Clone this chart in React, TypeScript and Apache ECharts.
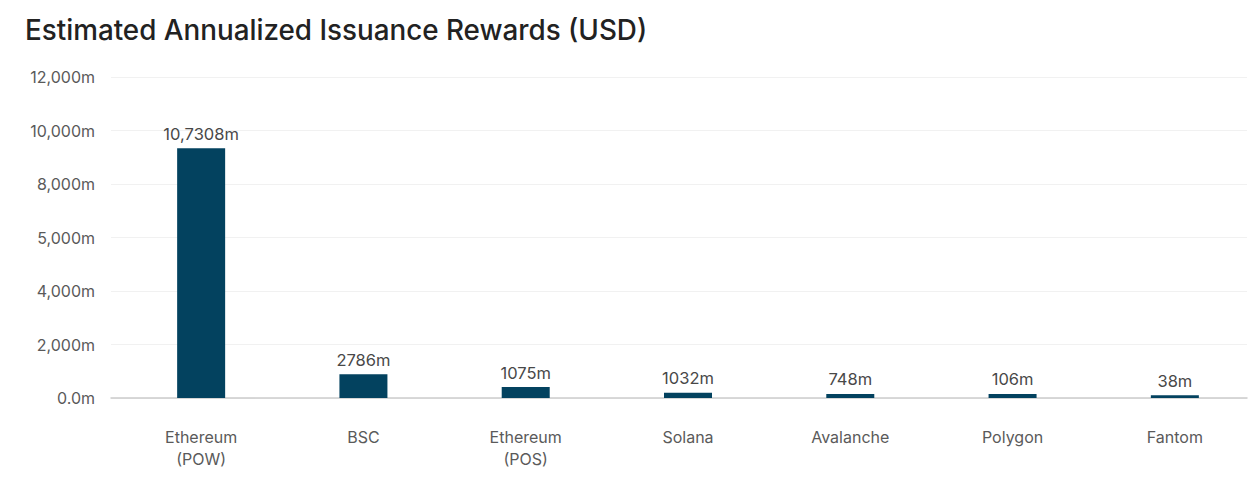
import React, { useEffect, useRef } from "react";
import * as echarts from "echarts";

const categories = ["Ethereum\n(POW)", "BSC", "Ethereum\n(POS)", "Solana", "Avalanche", "Polygon", "Fantom"];
// bar heights as drawn against the axis scale
const barValues = [9335, 886, 411, 200, 150, 150, 100];
// value labels shown above bars
const barLabels = ["10,7308m", "2786m", "1075m", "1032m", "748m", "106m", "38m"];
// y-axis tick labels (as shown)
const tickValues = [0, 2000, 4000, 6000, 8000, 10000, 12000];
const tickLabels = ["0.0m", "2,000m", "4,000m", "5,000m", "8,000m", "10,000m", "12,000m"];

const FONT = "Inter, Roboto, 'Noto Sans', sans-serif";

export default function App() {
  const ref = useRef<HTMLDivElement>(null);
  useEffect(() => {
    document.body.style.margin = "0";
    if (!ref.current) return;
    const chart = echarts.init(ref.current, null, { renderer: "svg" });
    const yFormatter = (v: number) => {
      const i = tickValues.indexOf(v);
      return i >= 0 ? tickLabels[i] : "";
    };
    chart.setOption({
      animation: false,
      backgroundColor: "#ffffff",
      title: {
        text: "Estimated Annualized Issuance Rewards (USD)",
        left: 20,
        top: 11,
        textStyle: { fontFamily: FONT, fontSize: 27.8, fontWeight: 500, color: "#222222" },
      },
      grid: [
        { left: 111, right: 12, top: 77, bottom: 85, containLabel: false },
        { left: 120, right: 3, top: 77, bottom: 85, containLabel: false },
      ],
      xAxis: [
        {
          type: "category",
          gridIndex: 0,
          data: categories,
          axisLine: { show: true, lineStyle: { color: "#cccccc", width: 1.5 } },
          axisTick: { show: false },
          axisLabel: { show: false },
        },
        {
          type: "category",
          gridIndex: 1,
          data: categories,
          axisLine: { show: false },
          axisTick: { show: false },
          axisLabel: {
            margin: 28,
            fontFamily: FONT,
            fontSize: 16,
            color: "#5a5a5a",
            lineHeight: 22,
            interval: 0,
          },
        },
      ],
      yAxis: [
        {
          type: "value",
          gridIndex: 0,
          min: 0,
          max: 12000,
          interval: 2000,
          axisLine: { show: false },
          axisTick: { show: false },
          splitLine: { lineStyle: { color: "#f1f1f1", width: 1 } },
          axisLabel: {
            margin: 16,
            fontFamily: FONT,
            fontSize: 16,
            color: "#5a5a5a",
            formatter: yFormatter,
          },
        },
        {
          type: "value",
          gridIndex: 1,
          min: 0,
          max: 12000,
          interval: 2000,
          show: false,
          splitLine: { show: false },
        },
      ],
      series: [
        {
          type: "bar",
          xAxisIndex: 1,
          yAxisIndex: 1,
          data: barValues,
          barWidth: 48,
          z: 5,
          itemStyle: { color: "#03425f" },
          label: {
            show: true,
            position: "top",
            distance: 6,
            fontFamily: FONT,
            fontSize: 16.5,
            color: "#484848",
            formatter: (p: any) => barLabels[p.dataIndex],
          },
        },
      ],
    });
    return () => chart.dispose();
  }, []);
  return <div ref={ref} style={{ width: 1259, height: 483 }} />;
}
